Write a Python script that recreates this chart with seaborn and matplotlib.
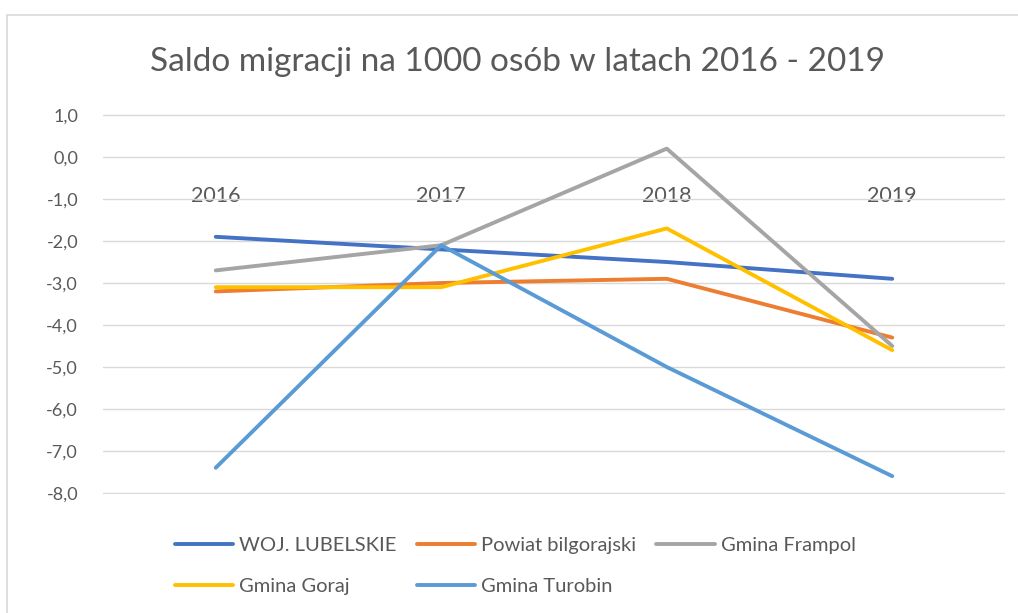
import numpy as np
import pandas as pd
import matplotlib
matplotlib.use("Agg")
import matplotlib.pyplot as plt
import seaborn as sns
from matplotlib.lines import Line2D

# data
years = ["2016", "2017", "2018", "2019"]
woj_lubelskie = [-1.9, -2.2, -2.5, -2.9]
powiat_bilgorajski = [-3.2, -3.0, -2.9, -4.3]
gmina_frampol = [-2.7, -2.1, 0.2, -4.5]
gmina_goraj = [-3.1, -3.1, -1.7, -4.6]
gmina_turobin = [-7.4, -2.1, -5.0, -7.6]

series_names = ["WOJ. LUBELSKIE", "Powiat bilgorajski", "Gmina Frampol",
                "Gmina Goraj", "Gmina Turobin"]
series_values = [woj_lubelskie, powiat_bilgorajski, gmina_frampol,
                 gmina_goraj, gmina_turobin]
colors = ["#4472C4", "#ED7D31", "#A5A5A5", "#FFC000", "#5B9BD5"]

rows = []
for name, vals in zip(series_names, series_values):
    for i, v in enumerate(vals):
        rows.append({"pos": i, "year": years[i], "seria": name, "value": v})
df = pd.DataFrame(rows)

sns.set_style("white")
plt.rcParams["font.family"] = ["Lato", "DejaVu Sans"]

fig = plt.figure(figsize=(10.18, 6.13), dpi=100)
ax = fig.add_axes([103 / 1018, 1 - 494 / 613, 902 / 1018, 380 / 613])

sns.lineplot(data=df, x="pos", y="value", hue="seria", hue_order=series_names,
             palette=colors, linewidth=2.8, sort=False, legend=False, ax=ax,
             solid_capstyle="round")

ax.set_xlim(-0.5, 3.5)
ax.set_ylim(-8.025, 1.025)
ax.set_yticks(np.arange(-8, 1.1, 1))
ax.set_yticklabels([f"{v:.1f}".replace(".", ",") for v in np.arange(-8, 1.1, 1)])
ax.yaxis.grid(True, color="#D9D9D9", linewidth=1)
ax.set_axisbelow(True)
ax.set_xticks(range(len(years)))
ax.set_xticklabels(years)
ax.set_xlabel("")
ax.set_ylabel("")

for s in ["top", "right", "left"]:
    ax.spines[s].set_visible(False)
ax.spines["bottom"].set_position(("data", 0))
ax.spines["bottom"].set_visible(False)
ax.tick_params(axis="x", length=0, pad=21, labelsize=15.5, labelcolor="#595959")
ax.tick_params(axis="y", length=0, pad=18, labelsize=13, labelcolor="#595959")

fig.text(518 / 1018, 1 - 62 / 613, "Saldo migracji na 1000 osób w latach 2016 - 2019",
         ha="center", va="center", fontsize=24, color="#595959")

# legend, row-major order with ncol=3
handles = [Line2D([0], [0], color=c, lw=2.8) for c in colors]
order = [0, 3, 1, 4, 2]
fig.legend([handles[i] for i in order], [series_names[i] for i in order],
           ncol=3, loc="center", bbox_to_anchor=(0.506, 1 - 566 / 613),
           frameon=False, fontsize=14.5, handlelength=2.9, handletextpad=0.3,
           columnspacing=1.0, labelspacing=1.15, labelcolor="#595959")

# chart frame (only top and left edges visible in the crop)
fig.add_artist(Line2D([7 / 1018, 1], [1 - 15 / 613, 1 - 15 / 613],
                      color="#D9D9D9", lw=1.2, transform=fig.transFigure))
fig.add_artist(Line2D([7 / 1018, 7 / 1018], [0, 1 - 15 / 613],
                      color="#D9D9D9", lw=1.2, transform=fig.transFigure))

fig.savefig("out.png", dpi=100)
